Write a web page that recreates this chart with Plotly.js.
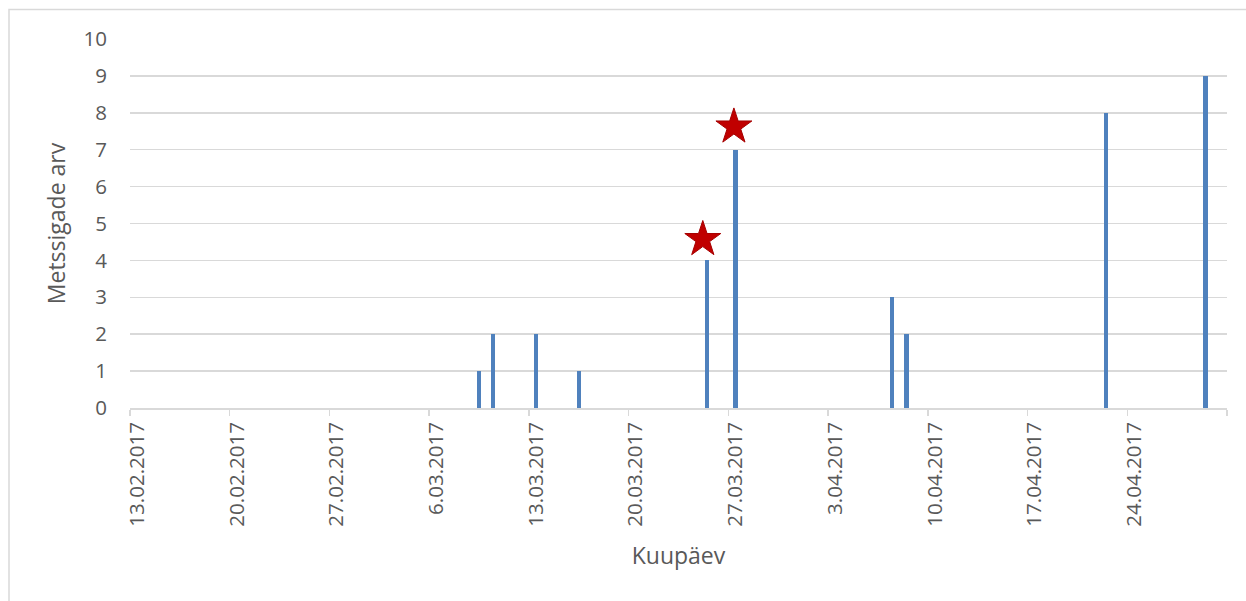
<!DOCTYPE html>
<html>
<head>
<meta charset="utf-8">
<script src="https://cdn.plot.ly/plotly-3.0.1.min.js"></script>
<style>
  html, body { margin: 0; padding: 0; background: #ffffff; }
  #chart { width: 1246px; height: 601px; }
</style>
</head>
<body>
<div id="chart"></div>
<script>
// Data
const dates  = ['2017-03-09', '2017-03-10', '2017-03-13', '2017-03-16', '2017-03-25',
                '2017-03-27', '2017-04-07', '2017-04-08', '2017-04-22', '2017-04-29'];
const counts = [1, 2, 2, 1, 4, 7, 3, 2, 8, 9];

// Red star markers above two of the bars
const starDates  = ['2017-03-25 04:55', '2017-03-27 09:20'];
const starValues = [4.57, 7.62];

// Weekly tick marks (the axis end has a mark but no label)
const tickDates  = ['2017-02-13', '2017-02-20', '2017-02-27', '2017-03-06', '2017-03-13', '2017-03-20',
                    '2017-03-27', '2017-04-03', '2017-04-10', '2017-04-17', '2017-04-24', '2017-05-01'];
// Labels, centred on the day they name (Excel date-axis style)
const labelDates = ['2017-02-13 12:00', '2017-02-20 12:00', '2017-02-27 12:00', '2017-03-06 12:00',
                    '2017-03-13 12:00', '2017-03-20 12:00', '2017-03-27 12:00', '2017-04-03 12:00',
                    '2017-04-10 12:00', '2017-04-17 12:00', '2017-04-24 12:00'];
const tickLabels = ['13.02.2017', '20.02.2017', '27.02.2017', '6.03.2017', '13.03.2017', '20.03.2017',
                    '27.03.2017', '3.04.2017', '10.04.2017', '17.04.2017', '24.04.2017'];

const xTitle = 'Kuupäev';
const yTitle = 'Metssigade arv';
const axisStart = '2017-02-13';
const axisEnd   = '2017-05-01';

const DAY = 86400000;
const FONT = '"Open Sans", "Noto Sans", sans-serif';
const TEXT = '#595959';
const GRID = '#d9d9d9';

const bars = {
  type: 'bar',
  x: dates,
  y: counts,
  xperiod: DAY,
  xperiodalignment: 'middle',
  width: 0.3 * DAY,
  marker: { color: '#4F81BD', line: { width: 0 } },
  hoverinfo: 'x+y',
  showlegend: false
};

const stars = {
  type: 'scatter',
  mode: 'markers',
  x: starDates,
  y: starValues,
  marker: { symbol: 'star', size: 27, color: '#C00000', line: { color: '#A50000', width: 1 } },
  showlegend: false,
  hoverinfo: 'skip'
};

// Invisible trace so the label axis is active
const labelAxisTrace = {
  type: 'scatter',
  mode: 'markers',
  x: [axisStart],
  y: [0],
  xaxis: 'x2',
  yaxis: 'y',
  marker: { opacity: 0, size: 1 },
  showlegend: false,
  hoverinfo: 'skip'
};

const layout = {
  width: 1246,
  height: 601,
  margin: { l: 129.5, r: 19, t: 39, b: 193, pad: 0 },
  paper_bgcolor: '#ffffff',
  plot_bgcolor: '#ffffff',
  font: { family: FONT, color: TEXT, size: 21 },
  bargap: 0,
  xaxis: {
    type: 'date',
    range: [axisStart, axisEnd],
    tickmode: 'array',
    tickvals: tickDates,
    showticklabels: false,
    ticks: 'outside',
    ticklen: 6,
    tickwidth: 1.5,
    tickcolor: GRID,
    showline: true,
    linecolor: GRID,
    linewidth: 1.5,
    showgrid: false,
    zeroline: false,
    fixedrange: true
  },
  xaxis2: {
    type: 'date',
    overlaying: 'x',
    anchor: 'y',
    side: 'bottom',
    range: [axisStart, axisEnd],
    tickmode: 'array',
    tickvals: labelDates,
    ticktext: tickLabels,
    tickangle: -90,
    ticks: '',
    showline: false,
    showgrid: false,
    zeroline: false,
    ticklabelstandoff: 9,
    tickfont: { family: FONT, color: TEXT, size: 20.5 },
    title: { text: xTitle, font: { family: FONT, color: TEXT, size: 23 }, standoff: 22 },
    fixedrange: true
  },
  yaxis: {
    range: [0, 10],
    dtick: 1,
    tick0: 0,
    showgrid: true,
    gridcolor: GRID,
    gridwidth: 1.5,
    zeroline: false,
    showline: false,
    ticks: '',
    ticklabelstandoff: 22,
    tickfont: { family: FONT, color: TEXT, size: 20.5 },
    title: { text: yTitle, font: { family: FONT, color: TEXT, size: 23 }, standoff: 11 },
    fixedrange: true
  },
  shapes: [{
    type: 'rect',
    xref: 'paper', yref: 'paper',
    x0: -0.1103, x1: 1.03, y0: -0.56, y1: 1.0799,
    line: { color: GRID, width: 1.5 },
    fillcolor: 'rgba(0,0,0,0)',
    layer: 'below'
  }]
};

Plotly.newPlot('chart', [bars, stars, labelAxisTrace], layout, { displayModeBar: false, staticPlot: true });
</script>
</body>
</html>
